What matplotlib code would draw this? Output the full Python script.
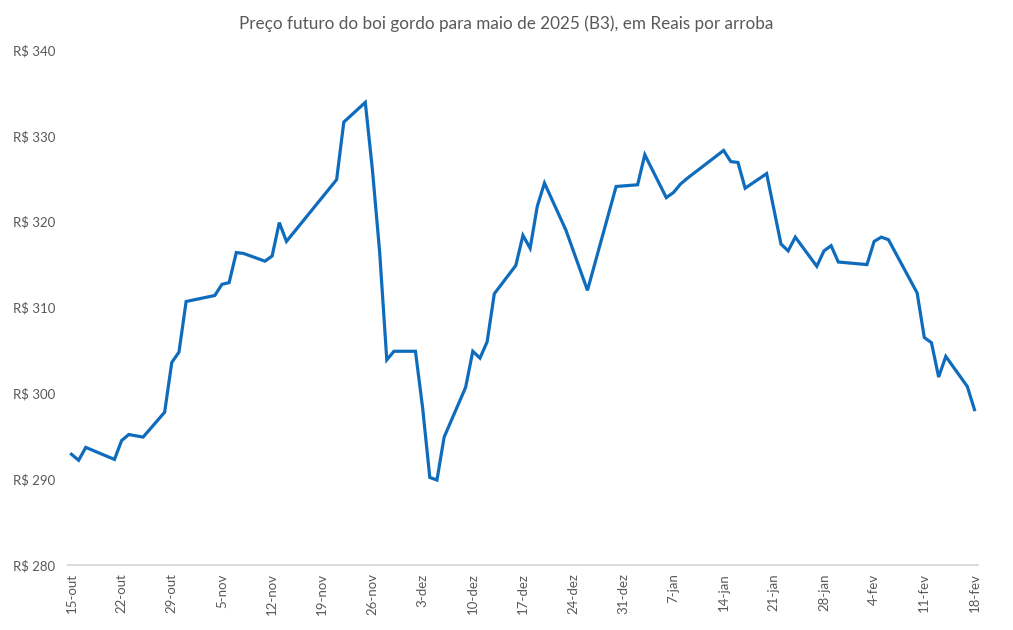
import matplotlib
matplotlib.use("Agg")
import matplotlib.pyplot as plt
import numpy as np
import pandas as pd

# trading days (B3 futures, boi gordo maio/2025) and settlement prices in R$/@
dates = [
    "2024-10-15", "2024-10-16", "2024-10-17", "2024-10-21", "2024-10-22",
    "2024-10-23", "2024-10-25", "2024-10-28", "2024-10-29", "2024-10-30",
    "2024-10-31", "2024-11-04", "2024-11-05", "2024-11-06", "2024-11-07",
    "2024-11-08", "2024-11-11", "2024-11-12", "2024-11-13", "2024-11-14",
    "2024-11-21", "2024-11-22", "2024-11-25", "2024-11-26", "2024-11-27",
    "2024-11-28", "2024-11-29", "2024-12-02", "2024-12-03", "2024-12-04",
    "2024-12-05", "2024-12-06", "2024-12-09", "2024-12-10", "2024-12-11",
    "2024-12-12", "2024-12-13", "2024-12-16", "2024-12-17", "2024-12-18",
    "2024-12-19", "2024-12-20", "2024-12-23", "2024-12-26", "2024-12-30",
    "2025-01-02", "2025-01-03", "2025-01-06", "2025-01-07", "2025-01-08",
    "2025-01-09", "2025-01-14", "2025-01-15", "2025-01-16", "2025-01-17",
    "2025-01-20", "2025-01-22", "2025-01-23", "2025-01-24", "2025-01-27",
    "2025-01-28", "2025-01-29", "2025-01-30", "2025-02-03", "2025-02-04",
    "2025-02-05", "2025-02-06", "2025-02-10", "2025-02-11", "2025-02-12",
    "2025-02-13", "2025-02-14", "2025-02-17", "2025-02-18",
]
prices = [
    292.9, 292.2, 293.7, 292.3, 294.5,
    295.2, 294.9, 297.8, 303.6, 304.8,
    310.7, 311.4, 312.7, 312.9, 316.4,
    316.3, 315.4, 316.0, 319.9, 317.7,
    324.9, 331.6, 333.9, 326.0, 316.5,
    303.9, 304.9, 304.9, 298.3, 290.2,
    289.9, 294.9, 300.7, 304.9, 304.1,
    306.0, 311.6, 314.9, 318.4, 316.9,
    321.8, 324.5, 319.0, 312.0, 324.1,
    324.3, 327.8, 322.8, 323.4, 324.4,
    325.1, 328.3, 327.0, 326.9, 323.9,
    325.6, 317.4, 316.6, 318.2, 314.8,
    316.6, 317.2, 315.3, 315.0, 317.7,
    318.2, 317.9, 311.7, 306.5, 305.9,
    301.9, 304.3, 300.8, 298.1,
]

tick_dates = pd.date_range("2024-10-15", "2025-02-18", freq="7D")
tick_labels = [
    "15-out", "22-out", "29-out", "5-nov", "12-nov", "19-nov", "26-nov",
    "3-dez", "10-dez", "17-dez", "24-dez", "31-dez", "7-jan", "14-jan",
    "21-jan", "28-jan", "4-fev", "11-fev", "18-fev",
]
y_ticks = [280, 290, 300, 310, 320, 330, 340]

title = "Preço futuro do boi gordo para maio de 2025 (B3), em Reais por arroba"

plt.rcParams['font.family'] = ['Lato', 'DejaVu Sans']
grey = "#595959"

fig = plt.figure(figsize=(10.13, 6.3), dpi=100)
ax = fig.add_axes([0.067, 0.1032, 0.8985, 0.8174])

x = pd.to_datetime(dates)
ax.plot(x, prices, color="#0f6cbd", linewidth=2.3, solid_joinstyle="miter")

ax.set_ylim(280, 340)
ax.set_yticks(y_ticks)
ax.set_yticklabels([f"R$ {v}" for v in y_ticks])
ax.set_xlim(pd.Timestamp("2024-10-15") - pd.Timedelta(hours=12),
            pd.Timestamp("2025-02-18") + pd.Timedelta(hours=12))
ax.set_xticks(tick_dates)
ax.set_xticklabels(tick_labels, rotation=90)

for side in ["top", "right", "left"]:
    ax.spines[side].set_visible(False)
ax.spines["bottom"].set_color("#d9d9d9")
ax.spines["bottom"].set_linewidth(1.3)
ax.tick_params(axis="both", length=0, labelcolor=grey, labelsize=9.5)
ax.tick_params(axis="y", pad=9)
ax.tick_params(axis="x", pad=6)

fig.text(0.5, 0.962, title, ha="center", va="center", fontsize=12.3, color=grey)

fig.savefig("out.png", dpi=100)
